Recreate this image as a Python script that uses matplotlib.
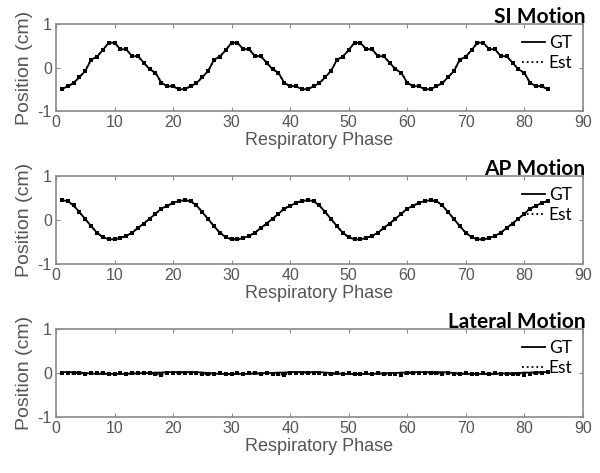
import numpy as np
import matplotlib
matplotlib.use("Agg")
import matplotlib.pyplot as plt

plt.rcParams["font.family"] = ["Liberation Sans", "DejaVu Sans"]
plt.rcParams["axes.unicode_minus"] = False


# =========================
# Data
# =========================
phase = list(range(1, 85))

si_gt = [
    -0.50, -0.43, -0.36, -0.22, -0.08, 0.18, 0.25, 0.40, 0.57, 0.57, 0.42,
    0.42, 0.26, 0.26, 0.11, -0.04, -0.12, -0.35, -0.43, -0.43, -0.50,
    -0.50, -0.43, -0.36, -0.22, -0.08, 0.18, 0.25, 0.40, 0.57, 0.57, 0.42,
    0.42, 0.26, 0.26, 0.11, -0.04, -0.12, -0.35, -0.43, -0.43, -0.50,
    -0.50, -0.43, -0.36, -0.22, -0.08, 0.18, 0.25, 0.40, 0.57, 0.57, 0.42,
    0.42, 0.26, 0.26, 0.11, -0.04, -0.12, -0.35, -0.43, -0.43, -0.50,
    -0.50, -0.43, -0.36, -0.22, -0.08, 0.18, 0.25, 0.40, 0.57, 0.57, 0.42,
    0.42, 0.26, 0.26, 0.11, -0.04, -0.12, -0.35, -0.43, -0.43, -0.50,
]
si_est = si_gt

ap_gt = [
    0.45, 0.43, 0.33, 0.18, 0.02, -0.14, -0.29, -0.39, -0.44, -0.44, -0.41,
    -0.36, -0.29, -0.18, -0.08, 0.03, 0.14, 0.26, 0.32, 0.39, 0.43,
    0.45, 0.43, 0.33, 0.18, 0.02, -0.14, -0.29, -0.39, -0.44, -0.44, -0.41,
    -0.36, -0.29, -0.18, -0.08, 0.03, 0.14, 0.26, 0.32, 0.39, 0.43,
    0.45, 0.43, 0.33, 0.18, 0.02, -0.14, -0.29, -0.39, -0.44, -0.44, -0.41,
    -0.36, -0.29, -0.18, -0.08, 0.03, 0.14, 0.26, 0.32, 0.39, 0.43,
    0.45, 0.43, 0.33, 0.18, 0.02, -0.14, -0.29, -0.39, -0.44, -0.44, -0.41,
    -0.36, -0.29, -0.18, -0.08, 0.03, 0.14, 0.26, 0.32, 0.39, 0.43,
]
ap_est = ap_gt

lat_gt = [
    0.02, 0.02, 0.02, 0.01, 0.00, -0.01, -0.02, -0.02, -0.02, -0.02, -0.02,
    -0.02, -0.01, -0.01, 0.00, 0.00, 0.01, 0.01, 0.02, 0.02, 0.02,
    0.02, 0.02, 0.02, 0.01, 0.00, -0.01, -0.02, -0.02, -0.02, -0.02, -0.02,
    -0.02, -0.01, -0.01, 0.00, 0.00, 0.01, 0.01, 0.02, 0.02, 0.02,
    0.02, 0.02, 0.02, 0.01, 0.00, -0.01, -0.02, -0.02, -0.02, -0.02, -0.02,
    -0.02, -0.01, -0.01, 0.00, 0.00, 0.01, 0.01, 0.02, 0.02, 0.02,
    0.02, 0.02, 0.02, 0.01, 0.00, -0.01, -0.02, -0.02, -0.02, -0.02, -0.02,
    -0.02, -0.01, -0.01, 0.00, 0.00, 0.01, 0.01, 0.02, 0.02, 0.02,
]
lat_est = [
    0.01, 0.00, -0.01, 0.00, -0.02, -0.01, 0.00, -0.01, -0.02, -0.03, 0.00,
    -0.02, -0.01, 0.00, -0.01, -0.01, -0.02, -0.04, -0.01, 0.00, 0.01,
    0.00, 0.01, -0.01, -0.03, -0.02, -0.02, -0.01, -0.02, -0.03, -0.01, -0.02,
    -0.01, 0.00, -0.02, -0.01, -0.02, -0.03, -0.04, 0.00, 0.01, 0.00,
    0.01, 0.00, -0.01, -0.02, -0.03, -0.01, -0.02, -0.01, -0.03, -0.02, -0.01,
    -0.02, -0.01, -0.02, -0.03, -0.02, -0.04, -0.01, 0.00, 0.01, 0.01,
    0.00, -0.01, -0.02, -0.01, -0.03, -0.02, -0.01, -0.02, -0.03, -0.01, -0.02,
    -0.01, -0.02, -0.02, -0.03, -0.02, -0.04, -0.02, 0.00, 0.01, 0.02,
]

panels = [
    ("SI Motion", si_gt, si_est),
    ("AP Motion", ap_gt, ap_est),
    ("Lateral Motion", lat_gt, lat_est),
]

x_ticks = [0, 10, 20, 30, 40, 50, 60, 70, 80, 90]
y_ticks = [-1, 0, 1]


# =========================
# Plot
# =========================
fig = plt.figure(figsize=(6.0, 4.73), dpi=100)

axes_boxes = [
    [0.0933, 0.7653, 0.878, 0.1839],
    [0.0933, 0.4419, 0.878, 0.1860],
    [0.0933, 0.1184, 0.878, 0.1860],
]

gray = "#555555"
frame = "#8a8a8a"

for box, (title, gt, est) in zip(axes_boxes, panels):
    ax = fig.add_axes(box)
    ax.plot(phase, gt, "-", color="black", lw=1.3, label="GT")
    ax.plot(phase, est, ":", color="black", lw=1.3, label="Est")
    ax.plot(phase, est, "s", color="black", ms=2.4, mew=0, lw=0)

    ax.set_xlim(0, 90)
    ax.set_ylim(-1, 1)
    ax.set_xticks(x_ticks)
    ax.set_yticks(y_ticks)
    ax.tick_params(direction="in", top=True, right=True, length=3,
                   color=frame, labelcolor=gray, labelsize=11.5, pad=3)
    for s in ax.spines.values():
        s.set_color(frame)
        s.set_linewidth(1.2)

    ax.set_xlabel("Respiratory Phase", fontsize=13, color=gray, labelpad=1)
    ax.set_ylabel("Position (cm)", fontsize=14, color=gray, labelpad=3)
    ax.set_title(title, loc="right", fontsize=15, fontweight="bold",
                 family="Lato", pad=1, x=1.005)

    ax.legend(loc="upper right", bbox_to_anchor=(1.0, 0.99), frameon=False,
              prop={"family": "Lato", "size": 12.5}, handlelength=1.35,
              handletextpad=0.2, labelspacing=0.2, borderaxespad=0.2)

fig.savefig("out.png", dpi=100)
